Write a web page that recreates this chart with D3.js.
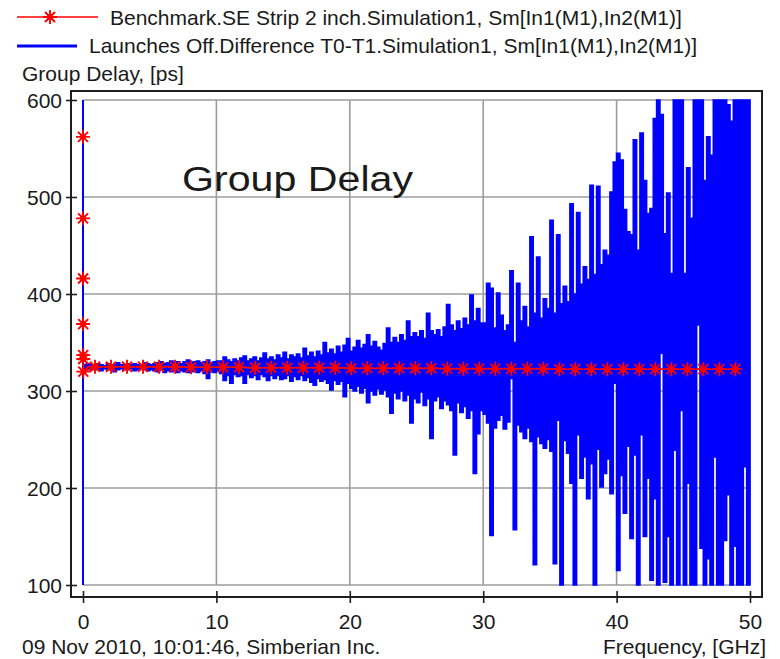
<!DOCTYPE html>
<html>
<head>
<meta charset="utf-8">
<script src="https://cdn.jsdelivr.net/npm/d3@7"></script>
<style>
  body { margin: 0; background: #ffffff; }
  svg { display: block; }
  text { font-family: "Liberation Sans", Arial, sans-serif; fill: #1a1a1a; }
</style>
</head>
<body>
<svg id="chart" width="780" height="659"></svg>
<script>
// ---- data ----
const xTicks = [0, 10, 20, 30, 40, 50];
const yTicks = [100, 200, 300, 400, 500, 600];

const seriesNames = [
  "Benchmark.SE Strip 2 inch.Simulation1, Sm[In1(M1),In2(M1)]",
  "Launches Off.Difference T0-T1.Simulation1, Sm[In1(M1),In2(M1)]"
];
const yTitle = "Group Delay, [ps]";
const xTitle = "Frequency, [GHz]";
const footer = "09 Nov 2010, 10:01:46, Simberian Inc.";
const plotTitle = "Group Delay";

// Benchmark trace (GHz, ps), every marker is a sample
const redFreq = [0, 0.004, 0.008, 0.012, 0.016, 0.02, 0.024,
  0.9, 2.1, 3.3, 4.5, 5.7, 6.9, 8.1, 9.3, 10.5, 11.7, 12.9, 14.1, 15.3, 16.5,
  17.7, 18.9, 20.1, 21.3, 22.5, 23.7, 24.9, 26.1, 27.3, 28.5, 29.7, 30.9, 32.1,
  33.3, 34.5, 35.7, 36.9, 38.1, 39.3, 40.5, 41.7, 42.9, 44.1, 45.3, 46.5, 47.7, 48.9];
const redDelay = [562, 478, 416, 369, 337, 333, 320,
  325, 325, 325, 325, 325, 325, 324.5, 324.5, 324.5, 324.5, 324, 324, 324, 324,
  324, 324, 323.5, 323.5, 323.5, 323.5, 323.5, 323.5, 323, 323, 323, 323, 323,
  323, 323, 322.5, 322.5, 322.5, 322.5, 322.5, 322.5, 322.5, 322.5, 322.5, 322.5, 322.5, 322.5];

// Difference trace: off-scale excursion at DC, then per-bin max/min (0.25 GHz bins from 0 GHz)
const blueOnsetFreq = [0, 0];
const blueOnsetDelay = [600, 100];
const blueBinStart = 0;
const blueBinWidth = 0.25;
const blueUpper = [
  327,328,327,327,328,327,326,328,327,327,329,327,327,328,327,328,327,327,329,328,327,
  328,329,330,328,329,331,329,330,328,330,332,329,330,331,329,330,332,329,330,331,
  331,335,332,330,333,331,334,336,331,333,335,331,334,339,333,335,332,337,334,340,
  333,337,335,338,334,344,336,340,335,341,337,350,339,343,338,346,340,347,354,341,
  345,352,344,348,358,346,351,345,342,349,365,350,355,350,358,352,372,356,360,356,
  362,354,380,362,358,363,356,366,389,368,362,372,364,375,368,399,372,385,370,370,
  411,406,365,401,378,362,368,424,350,411,372,387,366,459,380,438,375,395,385,476,
  380,461,390,408,392,493,400,484,410,428,415,512,420,511,430,445,440,505,536,545,
  538,487,464,461,559,445,566,517,483,488,581,600,585,462,504,421,600,600,600,421,
  530,478,600,600,600,517,562,543,600,600,600,600,595,578,600,600,600,600,600,600
];
const blueLower = [
  322,323,322,323,322,321,323,322,323,320,322,323,322,322,323,321,322,323,322,321,322,
  321,320,322,319,321,320,322,319,321,320,319,321,320,319,321,318,313,320,319,321,
  318,311,316,308,317,315,316,308,317,314,316,312,317,315,311,316,313,316,312,313,
  316,310,315,312,316,311,314,309,306,313,310,312,308,301,311,307,310,294,308,303,
  300,305,298,303,288,300,296,302,297,301,294,277,298,292,300,290,296,267,292,288,
  299,285,292,251,290,294,282,290,286,280,234,288,278,284,272,280,215,256,280,276,
  267,151,262,270,275,261,268,313,157,265,258,251,262,248,121,253,246,241,250,238,
  122,270,100,249,236,205,100,255,210,232,189,225,100,240,201,215,230,194,308,115,
  213,174,243,148,234,100,255,150,210,105,189,100,339,103,150,100,239,100,280,100,
  205,100,100,368,138,100,127,100,232,100,100,146,193,100,140,100,100,222,100,100
];

// ---- layout ----
const RED = "#ff0000", BLUE = "#0000ff", GRID = "#9c9c9c", FRAME = "#1e1e1e";
const frame = { left: 71, top: 91, right: 762, bottom: 597 };

const svg = d3.select("#chart");
const x = d3.scaleLinear().domain([0, 50]).range([83, 750]);
const y = d3.scaleLinear().domain([100, 600]).range([585, 100]);

// grid
const grid = svg.append("g");
grid.selectAll("line.gx").data(xTicks).join("line")
  .attr("x1", d => x(d)).attr("x2", d => x(d))
  .attr("y1", y(600)).attr("y2", y(100))
  .attr("stroke", GRID).attr("stroke-width", 1.6);
grid.selectAll("line.gy").data(yTicks).join("line")
  .attr("x1", x(0)).attr("x2", x(50))
  .attr("y1", d => y(d)).attr("y2", d => y(d))
  .attr("stroke", GRID).attr("stroke-width", 1.6);

// clip traces to the value range
svg.append("clipPath").attr("id", "plotClip")
  .append("rect").attr("x", x(0) - 1).attr("y", y(600) - 1.5)
  .attr("width", x(50) - x(0) + 2).attr("height", y(100) - y(600) + 3);

const traces = svg.append("g").attr("clip-path", "url(#plotClip)");

// blue trace: band between per-bin max and min
const bins = blueUpper.map((u, i) => ({ f: blueBinStart + i * blueBinWidth, hi: u, lo: blueLower[i] }));
const band = d3.area()
  .x(d => x(d.f)).y0(d => y(d.lo)).y1(d => y(d.hi))
  .curve(d3.curveStepAfter);
traces.append("path").datum(bins)
  .attr("d", band)
  .attr("fill", BLUE).attr("stroke", BLUE).attr("stroke-width", 1.6)
  .attr("stroke-linejoin", "miter");

// red trace line
const line = d3.line().x(d => x(d.f)).y(d => y(d.v));
const redPts = redFreq.map((f, i) => ({ f, v: redDelay[i] }));
traces.append("path").datum(redPts)
  .attr("d", line).attr("fill", "none")
  .attr("stroke", RED).attr("stroke-width", 1.5);

// blue DC excursion
const onset = blueOnsetFreq.map((f, i) => ({ f, v: blueOnsetDelay[i] }));
traces.append("path").datum(onset)
  .attr("d", line).attr("fill", "none")
  .attr("stroke", BLUE).attr("stroke-width", 2);

// asterisk markers
const star = "M-7,0H7M0,-7V7M-5,-5L5,5M-5,5L5,-5";
function drawMarker(g) {
  g.append("path").attr("d", star).attr("stroke", RED).attr("stroke-width", 1.9).attr("fill", "none");
  g.append("circle").attr("r", 3).attr("fill", RED);
}
svg.append("g").selectAll("g").data(redPts).join("g")
  .attr("transform", d => `translate(${x(d.f)},${y(d.v)})`)
  .each(function () { drawMarker(d3.select(this)); });

// frame
svg.append("rect")
  .attr("x", frame.left).attr("y", frame.top)
  .attr("width", frame.right - frame.left).attr("height", frame.bottom - frame.top)
  .attr("fill", "none").attr("stroke", FRAME).attr("stroke-width", 2);

// axes
const yAxis = svg.append("g").attr("transform", `translate(${frame.left},0)`)
  .call(d3.axisLeft(y).tickValues(yTicks).tickFormat(d3.format("d")).tickSize(5).tickPadding(4));
yAxis.select(".domain").remove();
yAxis.selectAll(".tick line").attr("x1", -5).attr("x2", 6).attr("stroke", FRAME).attr("stroke-width", 1.6);
yAxis.selectAll(".tick text").attr("font-size", 21).attr("fill", "#1a1a1a")
  .attr("font-family", '"Liberation Sans", Arial, sans-serif').attr("dy", "0.36em");

const xAxis = svg.append("g").attr("transform", `translate(0,${frame.bottom})`)
  .call(d3.axisBottom(x).tickValues(xTicks).tickFormat(d3.format("d")).tickSize(6).tickPadding(11));
xAxis.select(".domain").remove();
xAxis.selectAll(".tick line").attr("y1", -6).attr("y2", 6).attr("stroke", FRAME).attr("stroke-width", 1.6);
xAxis.selectAll(".tick text").attr("font-size", 21).attr("fill", "#1a1a1a")
  .attr("font-family", '"Liberation Sans", Arial, sans-serif');

// titles
svg.append("text").attr("x", 22).attr("y", 81).attr("font-size", 21).text(yTitle);
svg.append("text").attr("x", 766).attr("y", 654).attr("font-size", 21)
  .attr("text-anchor", "end").text(xTitle);
svg.append("text").attr("x", 22).attr("y", 654).attr("font-size", 21).text(footer);
svg.append("text").attr("x", 182).attr("y", 191).attr("font-size", 35)
  .attr("font-family", '"DejaVu Sans", Verdana, sans-serif')
  .attr("textLength", 231).attr("lengthAdjust", "spacingAndGlyphs").text(plotTitle);

// legend
const legend = svg.append("g");
legend.append("line").attr("x1", 17).attr("x2", 98).attr("y1", 17).attr("y2", 17)
  .attr("stroke", RED).attr("stroke-width", 1.5);
drawMarker(legend.append("g").attr("transform", "translate(50,17)"));
legend.append("text").attr("x", 110).attr("y", 25).attr("font-size", 21).text(seriesNames[0]);
legend.append("line").attr("x1", 17).attr("x2", 77).attr("y1", 46).attr("y2", 46)
  .attr("stroke", BLUE).attr("stroke-width", 3);
legend.append("text").attr("x", 89).attr("y", 53).attr("font-size", 21).text(seriesNames[1]);
</script>
</body>
</html>
